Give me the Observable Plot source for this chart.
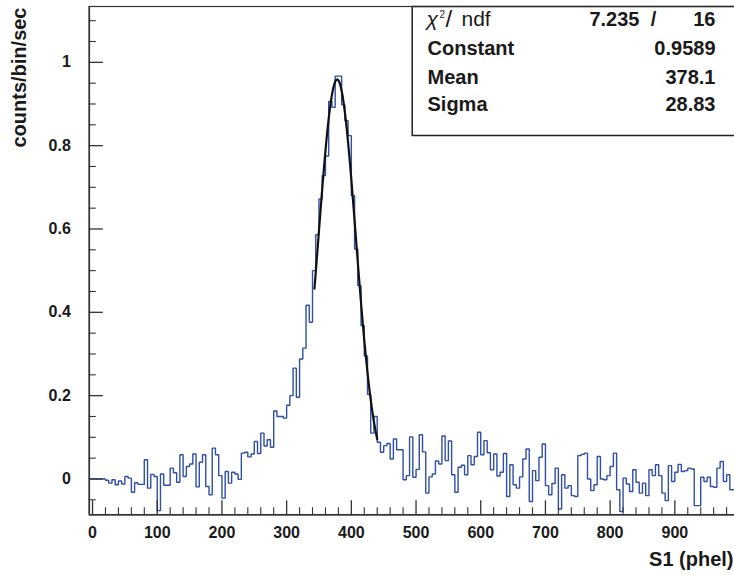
<!DOCTYPE html>
<html><head><meta charset="utf-8">
<script src="https://cdn.jsdelivr.net/npm/d3@7"></script>
<script src="https://cdn.jsdelivr.net/npm/@observablehq/plot@0.6"></script>
<style>html,body{margin:0;padding:0;background:#fff;overflow:hidden}</style>
</head><body><div id="chart"></div>
<script>
// Histogram: 200 bins of width 5 phel, first bin starts at -5
const binStart = -5;
const binWidth = 5;
const counts = [
  0, 0, 0, 0, 0, -0.003, -0.010, -0.002, -0.014, -0.005,            // -5 .. 40
  -0.012, 0.006, 0.002, -0.032, -0.009, -0.013, -0.013, 0.046, -0.022, 0.011, // 45 .. 90
  0.006, -0.076, 0.012, -0.015, -0.015, 0.026, 0.015, -0.008, 0.058, 0.006,   // 95 .. 140
  0.030, 0.036, 0.060, -0.019, 0.040, 0.058, -0.018, -0.038, 0.074, 0.058,    // 145 .. 190
  0.008, -0.046, 0.018, -0.010, 0.016, 0.012, -0.001, 0.062, 0.064, 0.053,    // 195 .. 240
  0.060, 0.090, 0.061, 0.110, 0.079, 0.094, 0.076, 0.163, 0.150, 0.150,       // 245 .. 290
  0.146, 0.177, 0.200, 0.266, 0.196, 0.288, 0.314, 0.417, 0.376, 0.500,       // 295 .. 340
  0.586, 0.672, 0.728, 0.775, 0.906, 0.892, 0.967, 0.967, 0.898, 0.860,       // 345 .. 390
  0.824, 0.680, 0.552, 0.464, 0.368, 0.295, 0.203, 0.110, 0.150, 0.088,       // 395 .. 440
  0.064, 0.080, 0.085, 0.048, 0.096, 0.070, 0.070, -0.002, 0.008, 0.101,      // 445 .. 490
  0.004, 0.023, 0.106, 0.065, -0.034, 0.005, 0.012, 0.043, 0.036, 0.103,      // 495 .. 540
  0.044, 0.091, 0.010, -0.032, 0.028, 0.033, 0.010, 0.056, 0.034, 0.054,      // 545 .. 590
  0.112, 0.058, 0.092, 0.063, 0.022, 0.060, 0.007, 0.016, 0.061, -0.042,      // 595 .. 640
  0.034, -0.014, -0.022, 0.005, 0.048, 0.072, -0.054, 0.020, -0.004, 0.052,   // 645 .. 690
  0.084, -0.016, -0.038, -0.011, 0.026, -0.072, 0.010, -0.022, -0.016, -0.040, // 695 .. 740
  -0.042, 0.056, 0.059, 0.062, 0.000, -0.028, -0.014, 0.054, 0.000, -0.002,   // 745 .. 790
  0.008, 0.030, 0.062, -0.026, -0.078, 0.002, -0.012, -0.030, 0.022, -0.008,  // 795 .. 840
  -0.034, -0.010, -0.040, 0.022, 0.008, 0.034, 0.008, -0.034, -0.052, 0.032,  // 845 .. 890
  -0.006, 0.016, 0.035, 0.018, 0.020, 0.026, 0.024, -0.064, -0.064, 0.004,    // 895 .. 940
  -0.006, 0.004, -0.018, -0.020, 0.026, 0.042, -0.006, 0.010, -0.026, -0.026  // 945 .. 990
];

// Gaussian fit (stats box parameters)
const fitConstant = 0.9589;
const fitMean = 378.1;
const fitSigma = 28.83;
const fitRange = [343, 440];
const chi2Text = "7.235";
const ndfText = "16";
const statLabels = ["Constant", "Mean", "Sigma"];
const statValues = ["0.9589", "378.1", "28.83"];

// Axes
const xTicks = [0, 100, 200, 300, 400, 500, 600, 700, 800, 900];
const xTickLabels = ["0", "100", "200", "300", "400", "500", "600", "700", "800", "900"];
const yTicks = [0, 0.2, 0.4, 0.6, 0.8, 1];
const yTickLabels = ["0", "0.2", "0.4", "0.6", "0.8", "1"];
const xTitle = "S1 (phel)";
const yTitle = "counts/bin/sec";
const xDomain = [-5, 995];
const yDomain = [-0.086, 1.134];

const xMinor = d3.range(0, 995, 20).filter(v => v % 100 !== 0);
const yMinor = d3.range(-0.05, 1.13, 0.05).map(v => +v.toFixed(2)).filter(v => Math.abs(v * 5 - Math.round(v * 5)) > 1e-6);

// Step outline of the histogram
const steps = [];
counts.forEach((v, i) => {
  const x0 = binStart + i * binWidth;
  steps.push({x: x0, y: v}, {x: x0 + binWidth, y: v});
});
// Fit curve
const fitPts = [];
for (let x = fitRange[0]; x <= fitRange[1]; x += 0.5) {
  fitPts.push({x, y: fitConstant * Math.exp(-0.5 * ((x - fitMean) / fitSigma) ** 2)});
}

const W = 734, H = 575;
const mL = 88.8, mR = -1.8, mT = 6, mB = 60.7;
const fw = W - mL - mR, fh = H - mT - mB;
const ink = "#1a1a1a", axisInk = "#333";
const font = "Liberation Sans, Arial, Helvetica, sans-serif";

const boxLeft = 411.7, boxBottom = 135;
const rowBase = [25, 54, 83.3, 110.5];

const plot = Plot.plot({
  width: W, height: H,
  marginLeft: mL, marginRight: mR, marginTop: mT, marginBottom: mB,
  x: {domain: xDomain, axis: null},
  y: {domain: yDomain, axis: null},
  style: {fontFamily: font, background: "#fff", color: ink},
  marks: [
    Plot.line(steps, {x: "x", y: "y", stroke: "#2f4fa8", strokeWidth: 1.4, strokeLinejoin: "miter", strokeLinecap: "butt"}),
    Plot.line(fitPts, {x: "x", y: "y", stroke: "#111", strokeWidth: 2.2}),
    // stats box
    Plot.frame({insetLeft: boxLeft - mL, insetBottom: mT + fh - boxBottom, fill: "white", stroke: "#222", strokeWidth: 1.5}),
    Plot.frame({stroke: axisInk, strokeWidth: 1.2}),
    Plot.ruleX([xDomain[0]], {stroke: axisInk, strokeWidth: 1.6}),
    Plot.ruleY([yDomain[0]], {stroke: axisInk, strokeWidth: 1.6}),
    // ticks (inside)
    Plot.tickX(xTicks, {x: d => d, insetTop: fh - 14, stroke: axisInk, strokeWidth: 1.3}),
    Plot.tickX(xMinor, {x: d => d, insetTop: fh - 7, stroke: axisInk, strokeWidth: 1.1}),
    Plot.tickY(yTicks, {y: d => d, insetRight: fw - 14, stroke: axisInk, strokeWidth: 1.3}),
    Plot.tickY(yMinor, {y: d => d, insetRight: fw - 7, stroke: axisInk, strokeWidth: 1.1}),
    // tick labels
    Plot.text(xTicks, {x: d => d, text: (d, i) => xTickLabels[i], frameAnchor: "bottom", dy: 12, lineAnchor: "top",
      fontSize: 16, fontWeight: "bold", fill: ink}),
    Plot.text(yTicks, {y: d => d, text: (d, i) => yTickLabels[i], frameAnchor: "left", dx: -18.5, textAnchor: "end",
      lineAnchor: "middle", fontSize: 16, fontWeight: "bold", fill: ink}),
    // axis titles
    Plot.text([xTitle], {frameAnchor: "bottom-right", textAnchor: "end", lineAnchor: "bottom", dx: 733 - (W - mR), dy: 565 - (mT + fh),
      fontSize: 20, fontWeight: "bold", fill: ink}),
    Plot.text([yTitle], {frameAnchor: "top-left", rotate: -90, textAnchor: "end", lineAnchor: "bottom", dx: 25 - mL, dy: 7 - mT,
      fontSize: 20, fontWeight: "bold", fill: ink, letterSpacing: "1.2px"}),
    // stats header: chi2 / ndf
    Plot.text(["χ"], {frameAnchor: "top-left", textAnchor: "start", lineAnchor: "bottom", dx: 426 - mL, dy: rowBase[0] - mT,
      fontSize: 21, fontStyle: "italic", fill: ink}),
    Plot.text(["2"], {frameAnchor: "top-left", textAnchor: "start", lineAnchor: "bottom", dx: 439 - mL, dy: 17 - mT,
      fontSize: 10, fill: ink}),
    Plot.text(["/"], {frameAnchor: "top-left", textAnchor: "start", lineAnchor: "bottom", dx: 445 - mL, dy: rowBase[0] + 1 - mT,
      fontSize: 24, fill: ink}),
    Plot.text(["ndf"], {frameAnchor: "top-left", textAnchor: "start", lineAnchor: "bottom", dx: 461 - mL, dy: rowBase[0] - mT,
      fontSize: 21, fill: ink, letterSpacing: "2px"}),
    Plot.text([chi2Text], {frameAnchor: "top-right", textAnchor: "end", lineAnchor: "bottom", dx: 639 - (W - mR), dy: rowBase[0] - mT,
      fontSize: 20, fontWeight: "bold", fill: ink}),
    Plot.text(["/"], {frameAnchor: "top-right", textAnchor: "middle", lineAnchor: "bottom", dx: 653 - (W - mR), dy: rowBase[0] - mT,
      fontSize: 20, fontWeight: "bold", fill: ink}),
    Plot.text([ndfText], {frameAnchor: "top-right", textAnchor: "end", lineAnchor: "bottom", dx: 715 - (W - mR), dy: rowBase[0] - mT,
      fontSize: 20, fontWeight: "bold", fill: ink}),
    ...statLabels.map((s, i) => Plot.text([s], {frameAnchor: "top-left", textAnchor: "start", lineAnchor: "bottom",
      dx: 427 - mL, dy: rowBase[i + 1] - mT, fontSize: 20, fontWeight: "bold", fill: ink})),
    ...statValues.map((s, i) => Plot.text([s], {frameAnchor: "top-right", textAnchor: "end", lineAnchor: "bottom",
      dx: 715 - (W - mR), dy: rowBase[i + 1] - mT, fontSize: 20, fontWeight: "bold", fill: ink}))
  ]
});
document.getElementById("chart").appendChild(plot);
</script>
</body></html>
